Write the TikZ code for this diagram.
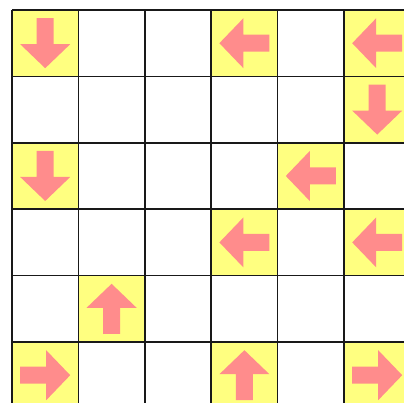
\documentclass[tikz,border=0pt]{standalone}
\definecolor{cellyellow}{RGB}{255,255,128}
\definecolor{arrowpink}{RGB}{255,140,140}
\tikzset{
  arrowpic/.pic={\fill[arrowpink] (-8.5,-25) -- (8.5,-25) -- (8.5,1) -- (25,1) -- (0,25) -- (-25,1) -- (-8.5,1) -- cycle;},
  gridline/.style={line width=1.6pt, black!90}
}
\newcommand{\cs}{66.4}
\begin{document}
\begin{tikzpicture}[x=1pt,y=-1pt]
\useasboundingbox (0,0) rectangle (404,403);
\clip (0,0) rectangle (404,403);
\fill[white] (0,0) rectangle (404,403);
% yellow cells: (col,row) with direction rotation
\foreach \c/\r/\rot in {0/0/0, 3/0/-90, 5/0/-90, 5/1/0, 0/2/0, 4/2/-90, 3/3/-90, 5/3/-90, 1/4/180, 0/5/90, 3/5/180, 5/5/90}{
  \fill[cellyellow] ({12+\c*\cs},{10+\r*\cs}) rectangle ++(\cs,\cs);
  \pic[rotate=\rot] at ({12+(\c+0.5)*\cs},{10+(\r+0.5)*\cs}) {arrowpic};
}
\foreach \i in {0,...,6}{
  \draw[gridline] ({12+\i*\cs},10) -- ({12+\i*\cs},{10+6*\cs});
  \draw[gridline] (12,{10+\i*\cs}) -- ({12+6*\cs},{10+\i*\cs});
}
\end{tikzpicture}
\end{document}
